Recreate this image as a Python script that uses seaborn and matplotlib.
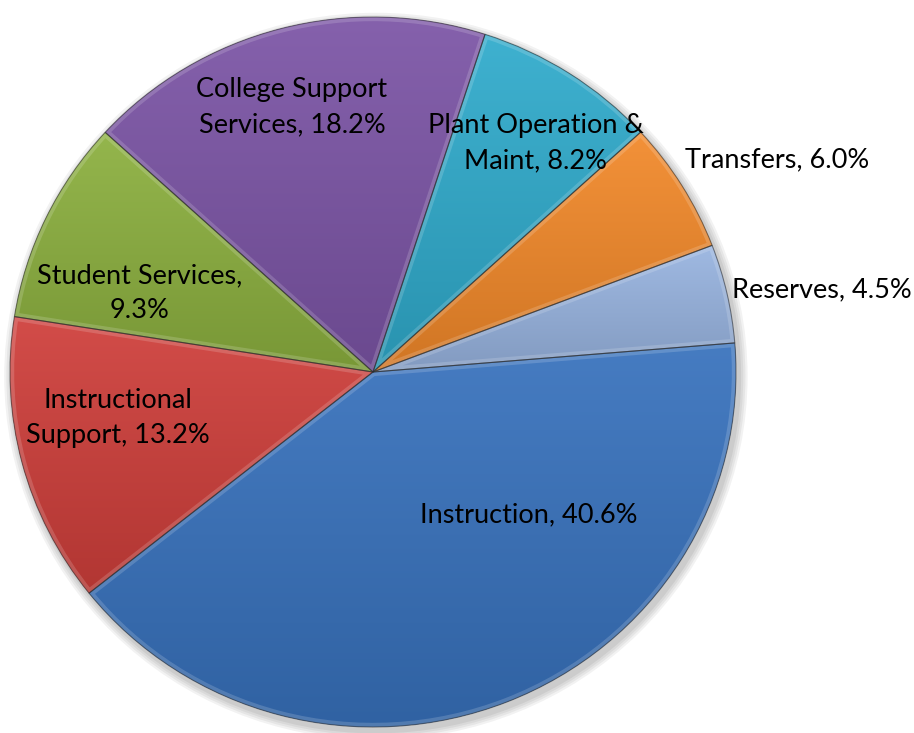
import numpy as np
import matplotlib
matplotlib.use("Agg")
import matplotlib.pyplot as plt
import matplotlib.colors as mcolors
from matplotlib.patches import Ellipse, Wedge
import seaborn as sns

# Budget share by category (percent)
categories = ["Reserves", "Transfers", "Plant Operation & Maint",
              "College Support Services", "Student Services",
              "Instructional Support", "Instruction"]
shares = [4.5, 6.0, 8.2, 18.2, 9.3, 13.2, 40.6]
palette_hex = ["#98b4e0", "#f2892a", "#30abcc", "#7c55a6",
               "#8cb03f", "#cf3f3b", "#3872bd"]

sns.set_theme(style="white")
plt.rcParams["font.family"] = ["Lato", "DejaVu Sans"]
colors = sns.color_palette(palette_hex)

W, H = 914, 733
CX, CY = 373, 372          # pie centre in pixels
RX, RY = 363, 355          # pie radii in pixels

fig = plt.figure(figsize=(W / 100, H / 100), dpi=100)
ax = fig.add_axes([0, 0, 1, 1])


def to_data(px, py):
    return (px - CX) / RX, (CY - py) / RY


# soft drop shadow under the pie
for k, a in enumerate([0.05, 0.05, 0.05, 0.06]):
    grow = 0.012 * (4 - k)
    ax.add_patch(Ellipse((0.008, -0.012), 2 + grow, 2 + grow,
                         facecolor="black", alpha=a, edgecolor="none", zorder=0))

wedges, _ = ax.pie(shares, colors=colors, startangle=4.7, counterclock=True,
                   radius=1, center=(0, 0), frame=True,
                   wedgeprops=dict(edgecolor="none", linewidth=0))


def shade(c, f):
    c = np.array(mcolors.to_rgb(c))
    if f >= 0:
        return c + (1 - c) * f
    return c * (1 + f)


for w, c in zip(wedges, colors):
    th = np.radians(np.linspace(w.theta1, w.theta2, 200))
    xs = np.concatenate([[0], np.cos(th)])
    ys = np.concatenate([[0], np.sin(th)])
    y0, y1 = ys.min(), ys.max()
    x0, x1 = xs.min(), xs.max()
    n = 256
    t = np.linspace(0, 1, n)[:, None]
    top, bot = shade(c, 0.07), shade(c, -0.14)
    grad = top[None, :] * (1 - t) + bot[None, :] * t
    img = np.repeat(grad[:, None, :], 2, axis=1)
    im = ax.imshow(img, extent=(x0, x1, y0, y1), origin="upper",
                   aspect="auto", zorder=2, interpolation="bilinear")
    im.set_clip_path(w)
    # bevel highlight along the slice borders
    hl = Wedge((0, 0), 1, w.theta1, w.theta2, facecolor="none",
               edgecolor="white", linewidth=6, alpha=0.16, zorder=3)
    ax.add_patch(hl)
    hl.set_clip_path(w)
    ax.add_patch(Wedge((0, 0), 1, w.theta1, w.theta2, facecolor="none",
                       edgecolor="#2a2a2a", linewidth=0.8, alpha=0.55, zorder=4))

# label text per slice: "<name>, <share>%" wrapped after a given word count
wrap_after = [None, None, 3, 2, 2, 1, None]
anchors = [  # (x, first baseline y, ha) in pixels
    (732, 297, "left"),
    (685, 167, "left"),
    (536, 133, "center"),
    (292, 97, "center"),
    (140, 283, "center"),
    (118, 408, "center"),
    (529, 522, "center"),
]
line_gap = 35
for cat, val, brk, (px, py, ha) in zip(categories, shares, wrap_after, anchors):
    words = f"{cat}, {val:.1f}%".split(" ")
    lines = [" ".join(words)] if brk is None else [" ".join(words[:brk]), " ".join(words[brk:])]
    for i, line in enumerate(lines):
        x, y = to_data(px, py + i * line_gap)
        ax.text(x, y, line, ha=ha, va="baseline", fontsize=19.5,
                color="black", zorder=6)

ax.set_xlim(-CX / RX, (W - CX) / RX)
ax.set_ylim(-(H - CY) / RY, CY / RY)
ax.set_aspect("auto")
ax.axis("off")
fig.savefig("out.png", dpi=100)
